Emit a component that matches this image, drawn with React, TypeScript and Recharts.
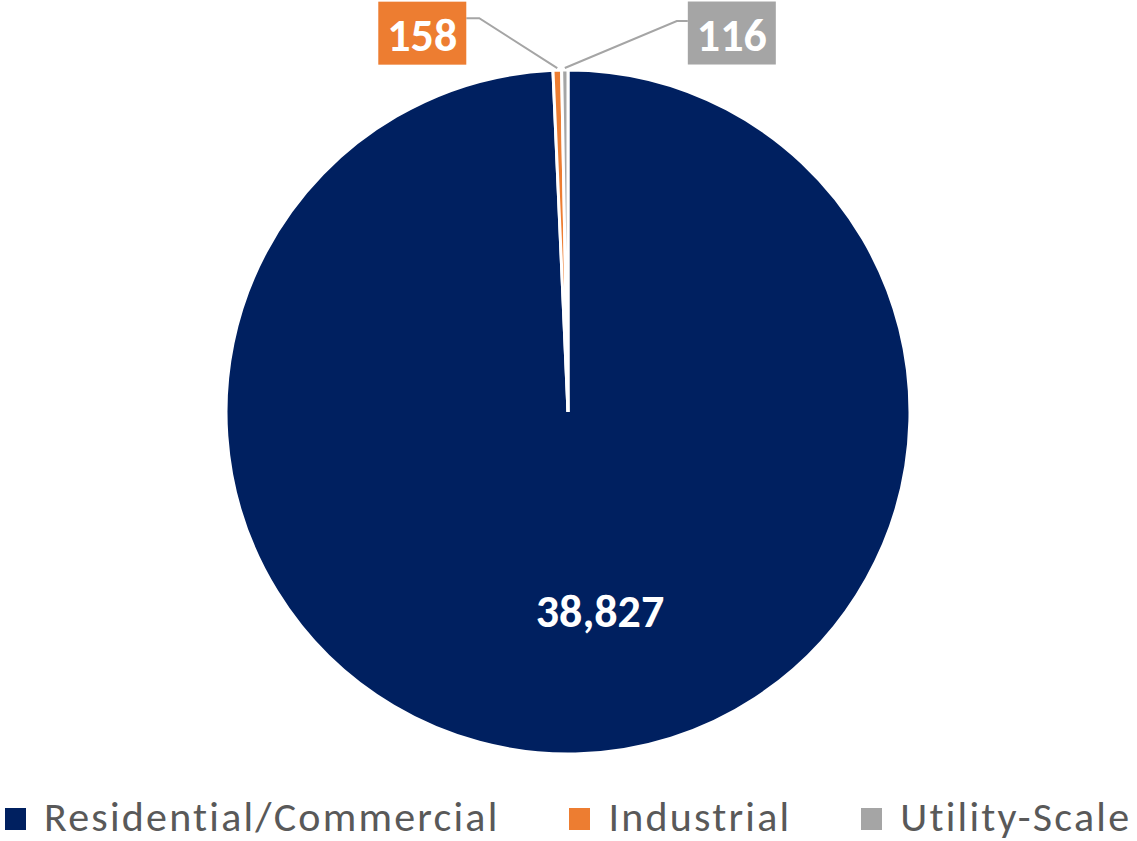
import React from 'react';
import { PieChart, Pie, Cell, Legend } from 'recharts';

const categories = ['Residential/Commercial', 'Industrial', 'Utility-Scale'];
const values = [38827, 158, 116];
const colors = ['#002060', '#ED7D31', '#A5A5A5'];

const data = categories.map((name, i) => ({ name, value: values[i] }));

const FONT = "Carlito, Calibri, Lato, sans-serif";

// where each label box sits, relative to the slice's outer point
const labelBoxes = [
  { dx: 32, dy: 199, inside: true },
  { dx: -135, dy: -35, elbow: -78 },
  { dx: 167, dy: -35, elbow: 112 },
];

const renderLabel = (props: any) => {
  const { cx, cy, midAngle, outerRadius, index, value } = props;
  const text = value.toLocaleString('en-US');
  const box = labelBoxes[index];
  if (box.inside) {
    return (
      <text x={cx + box.dx} y={cy + box.dy} fill="#fff" textAnchor="middle" dominantBaseline="central"
        fontFamily={FONT} fontWeight={700} fontSize={46}>
        {text}
      </text>
    );
  }
  const rad = (Math.PI / 180) * midAngle;
  const px = cx + outerRadius * Math.cos(rad);
  const py = cy - outerRadius * Math.sin(rad) - 2;
  const bx = px + box.dx;
  const by = py + box.dy;
  const w = 88;
  const h = 63;
  const edgeX = box.dx < 0 ? bx + w / 2 : bx - w / 2;
  const lineY = py - (index === 1 ? 50 : 47);
  return (
    <g>
      <polyline points={`${px},${py} ${px + box.elbow},${lineY} ${edgeX},${lineY}`} fill="none" stroke="#A5A5A5" strokeWidth={2} />
      <rect x={bx - w / 2} y={by - h / 2} width={w} height={h} fill={colors[index]} />
      <text x={bx} y={by + 2} fill="#fff" textAnchor="middle" dominantBaseline="central"
        fontFamily={FONT} fontWeight={700} fontSize={46}>
        {text}
      </text>
    </g>
  );
};

const renderLegend = () => (
  <div style={{ display: 'flex', alignItems: 'center', whiteSpace: 'nowrap', fontFamily: FONT, fontSize: 42, lineHeight: '44px', letterSpacing: 2.2, color: '#595959', paddingLeft: 5 }}>
    {categories.map((c, i) => (
      <div key={c} style={{ display: 'flex', alignItems: 'center', flexShrink: 0, marginRight: i < 2 ? 70 : 0 }}>
        <span style={{ width: 21, height: 22, background: colors[i], display: 'inline-block', marginRight: 18, marginTop: 4 }} />
        <span>{c}</span>
      </div>
    ))}
  </div>
);

export default function App() {
  return (
    <div style={{ position: 'absolute', left: 0, top: 0 }}>
      <style>{`body{margin:0}`}</style>
      <PieChart width={1137} height={841} margin={{ top: 0, right: 0, bottom: 0, left: 0 }}>
        <Pie
          data={data}
          dataKey="value"
          cx={568}
          cy={412}
          outerRadius={342}
          startAngle={90}
          endAngle={-270}
          stroke="#fff"
          strokeWidth={3}
          label={renderLabel}
          labelLine={false}
          isAnimationActive={false}
        >
          {data.map((d, i) => (
            <Cell key={d.name} fill={colors[i]} />
          ))}
        </Pie>
        <Legend verticalAlign="bottom" content={renderLegend} wrapperStyle={{ bottom: 2, left: 0, width: 1137 }} />
      </PieChart>
    </div>
  );
}
